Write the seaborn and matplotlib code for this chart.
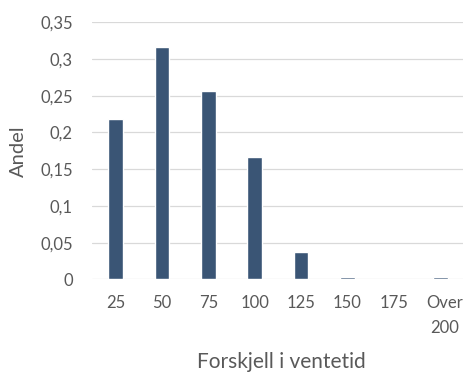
import matplotlib
matplotlib.use("Agg")
import matplotlib.pyplot as plt
import matplotlib.transforms as mtransforms
import seaborn as sns
import pandas as pd

# Share of cases by difference in waiting time
categories = ["25", "50", "75", "100", "125", "150", "175", "Over\n200"]
shares = [0.218, 0.317, 0.256, 0.167, 0.037, 0.003, 0.0, 0.003]
y_ticks = [0, 0.05, 0.1, 0.15, 0.2, 0.25, 0.3, 0.35]
y_tick_labels = ["0", "0,05", "0,1", "0,15", "0,2", "0,25", "0,3", "0,35"]

sns.set_theme(style="white")
plt.rcParams["font.family"] = ["Lato", "DejaVu Sans"]

df = pd.DataFrame({"kategori": categories, "andel": shares})

fig = plt.figure(figsize=(4.69, 3.72), dpi=100)
ax = fig.add_axes([0.197, 0.249, 0.791, 0.691])

sns.barplot(data=df, x="kategori", y="andel", order=categories,
            color="#3a5575", saturation=1, width=0.32, ax=ax, zorder=3)

txt = "#595959"
tick_size = 12

ax.set_ylim(0, 0.35)
ax.set_xlim(-0.5, len(categories) - 0.5)
ax.set_yticks(y_ticks)
ax.set_yticklabels(y_tick_labels, fontsize=tick_size, color=txt)
ax.set_xticks(range(len(categories)))
ax.set_xticklabels(categories, fontsize=tick_size, color=txt,
                   linespacing=1.67, va="top")

ax.grid(axis="y", color="#d9d9d9", linewidth=0.9, zorder=0)
ax.set_axisbelow(True)
for side in ["top", "right", "left", "bottom"]:
    ax.spines[side].set_visible(False)

ax.tick_params(axis="y", length=0, pad=14)
ax.tick_params(axis="x", length=0, pad=11.5)

# last label sits a little to the right of its bar
last = ax.get_xticklabels()[-1]
last.set_transform(last.get_transform() +
                   mtransforms.ScaledTranslation(4 / 100, 0, fig.dpi_scale_trans))

ax.set_xlabel("Forskjell i ventetid", fontsize=15, color=txt, va="center")
ax.xaxis.set_label_coords(0.51, -0.32)

ax.set_ylabel("Andel", fontsize=14.5, color=txt, va="center")
ax.yaxis.set_label_coords(-0.2, 0.499)

fig.savefig("out.png", dpi=100)
